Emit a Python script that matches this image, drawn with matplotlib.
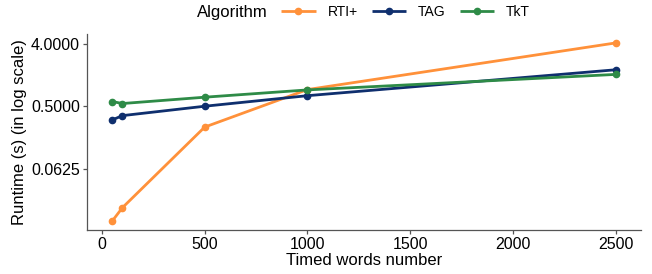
import matplotlib
matplotlib.use("Agg")
import matplotlib.pyplot as plt
from matplotlib.ticker import FixedLocator, FixedFormatter
import numpy as np

plt.rcParams['font.family'] = ['Liberation Sans', 'DejaVu Sans']

words = [50, 100, 500, 1000, 2500]
algorithms = ["RTI+", "TAG", "TkT"]
rti = [0.011, 0.0172, 0.25, 0.87, 4.1]
tag = [0.317, 0.366, 0.5, 0.71, 1.68]
tkt = [0.585, 0.547, 0.675, 0.86, 1.44]
series = [rti, tag, tkt]
colors = ["#FF913A", "#0F2F6E", "#2E8B47"]
yticks = [0.0625, 0.5, 4.0]
ytick_labels = ["0.0625", "0.5000", "4.0000"]
xticks = [0, 500, 1000, 1500, 2000, 2500]

fig = plt.figure(figsize=(6.52, 2.74), dpi=100)
ax = fig.add_axes([87/652, 44/274, (641-87)/652, (240-44)/274])

handles = []
for name, vals, c in zip(algorithms, series, colors):
    h, = ax.plot(words, vals, color=c, lw=2.0, marker='o', ms=4.5, label=name,
                 solid_capstyle='butt')
    handles.append(h)

ax.set_yscale('log', base=2)
ax.yaxis.set_major_locator(FixedLocator(yticks))
ax.yaxis.set_major_formatter(FixedFormatter(ytick_labels))
ax.yaxis.set_minor_locator(FixedLocator([]))
ax.set_xticks(xticks)
ax.set_xlim(-72.5, 2622.5)
lo, hi = np.log2(min(rti)), np.log2(max(rti))
pad = (hi - lo) * 0.05
ax.set_ylim(2 ** (lo - pad), 2 ** (hi + pad))

for s in ['top', 'right']:
    ax.spines[s].set_visible(False)
for s in ['left', 'bottom']:
    ax.spines[s].set_color('#555555')
    ax.spines[s].set_linewidth(0.9)
ax.tick_params(axis='both', labelsize=11.5, colors='#555555', labelcolor='black',
               length=3, width=0.9, pad=2)
ax.set_xlabel("Timed words number", fontsize=12, labelpad=1)
ax.set_ylabel("Runtime (s) (in log scale)", fontsize=12, labelpad=3)

fig.text(197/652, 1 - 13/274, "Algorithm", fontsize=12, va='center', ha='left')
fig.legend(handles=handles, labels=algorithms, loc='center left',
           bbox_to_anchor=(281/652, 1 - 12/274), ncol=3, frameon=False,
           fontsize=10, handlelength=2.5, handletextpad=0.85, columnspacing=1.0,
           borderaxespad=0, borderpad=0)

fig.savefig("out.png", dpi=100)
